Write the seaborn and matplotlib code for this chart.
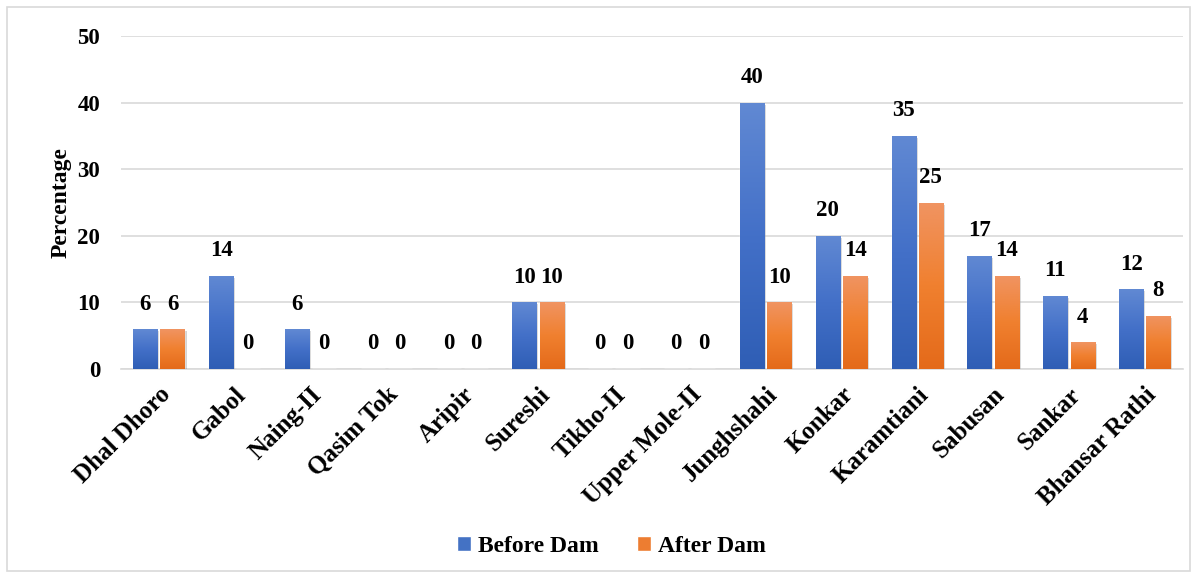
import numpy as np
import pandas as pd
import matplotlib
matplotlib.use("Agg")
import matplotlib.pyplot as plt
import matplotlib.patheffects as pe
from matplotlib.colors import LinearSegmentedColormap
from matplotlib.patches import Patch, Rectangle
import seaborn as sns

sites = ["Dhal Dhoro", "Gabol", "Naing-II", "Qasim Tok", "Aripir", "Sureshi",
         "Tikho-II", "Upper Mole-II", "Junghshahi", "Konkar", "Karamtiani",
         "Sabusan", "Sankar", "Bhansar Rathi"]
before_dam = [6, 14, 6, 0, 0, 10, 0, 0, 40, 20, 35, 17, 11, 12]
after_dam = [6, 0, 0, 0, 0, 10, 0, 0, 10, 14, 25, 14, 4, 8]
series = ["Before Dam", "After Dam"]
y_ticks = [0, 10, 20, 30, 40, 50]

df = pd.DataFrame({
    "Site": sites * 2,
    "Value": before_dam + after_dam,
    "Period": [series[0]] * len(sites) + [series[1]] * len(sites),
})

sns.set_theme(style="white")
plt.rcParams["font.family"] = ["Liberation Serif", "DejaVu Serif"]
plt.rcParams["font.weight"] = "bold"

blue, orange = "#4472C4", "#ED7D31"
gradients = {
    series[0]: LinearSegmentedColormap.from_list("b", ["#2F5EB5", "#4370C8", "#6189D3"]),
    series[1]: LinearSegmentedColormap.from_list("o", ["#E46A1A", "#F0802F", "#F09462"]),
}

fig = plt.figure(figsize=(11.97, 5.78), dpi=100)
fig.patches.append(Rectangle((0.006, 0.012), 0.988, 0.976, transform=fig.transFigure,
                             fill=False, edgecolor="#d9d9d9", linewidth=1.2))
ax = fig.add_axes([0.101, 0.3616, 0.887, 0.5761])

sns.barplot(data=df, x="Site", y="Value", hue="Period", hue_order=series,
            palette=[blue, orange], width=0.72, gap=0.12, ax=ax, legend=False,
            errorbar=None, saturation=1, zorder=3)

ax.set_ylim(0, 50)
ax.set_xlim(-0.5, len(sites) - 0.5)
ax.set_yticks(y_ticks)
ax.yaxis.grid(True, color="#d9d9d9", linewidth=1.2, zorder=0)
ax.set_axisbelow(True)
for s in ["top", "right", "left"]:
    ax.spines[s].set_visible(False)
ax.spines["bottom"].set_color("#d9d9d9")
ax.spines["bottom"].set_linewidth(1.2)
ax.tick_params(axis="both", length=0, labelsize=16.5, labelcolor="black")
ax.tick_params(axis="y", pad=15)
ax.set_xlabel("")
ax.set_ylabel("Percentage", fontsize=17, fontweight="bold", labelpad=4, color="black")
for lbl in ax.get_yticklabels():
    lbl.set_fontweight("bold")
ax.set_xticks(range(len(sites)))
ax.set_xticklabels(sites, rotation=45, ha="right", rotation_mode="anchor",
                   fontsize=18, fontweight="bold", color="black")
ax.tick_params(axis="x", pad=10)

grad = np.linspace(0, 1, 256).reshape(-1, 1)
for container, name, vals in zip(ax.containers, series, [before_dam, after_dam]):
    for bar, v in zip(container, vals):
        x0, w = bar.get_x(), bar.get_width()
        if v > 0:
            bar.set_path_effects([pe.SimplePatchShadow(offset=(1.5, -1.5), alpha=0.25,
                                                       shadow_rgbFace="#555555"),
                                  pe.Normal()])
            img = ax.imshow(grad, cmap=gradients[name], aspect="auto", origin="lower",
                            extent=(x0, x0 + w, 0, v), zorder=4)
            img.set_clip_path(bar)
        ax.annotate(f"{v:g}", (x0 + w / 2, v), xytext=(0, 18), textcoords="offset points",
                    ha="center", va="center", fontsize=16.5, fontweight="bold",
                    color="black", zorder=5)
ax.set_xlim(-0.5, len(sites) - 0.5)
ax.set_ylim(0, 50)

handles = [Patch(facecolor=blue, label=series[0]), Patch(facecolor=orange, label=series[1])]
leg = fig.legend(handles=handles, loc="center", bbox_to_anchor=(0.511, 0.055), ncol=2,
                 frameon=False, prop={"family": "Liberation Serif", "size": 17,
                                      "weight": "bold"},
                 handlelength=0.6, handleheight=0.6, handletextpad=0.3, columnspacing=1.6)
for t in leg.get_texts():
    t.set_fontweight("bold")
    t.set_color("black")

fig.savefig("out.png", dpi=100)
